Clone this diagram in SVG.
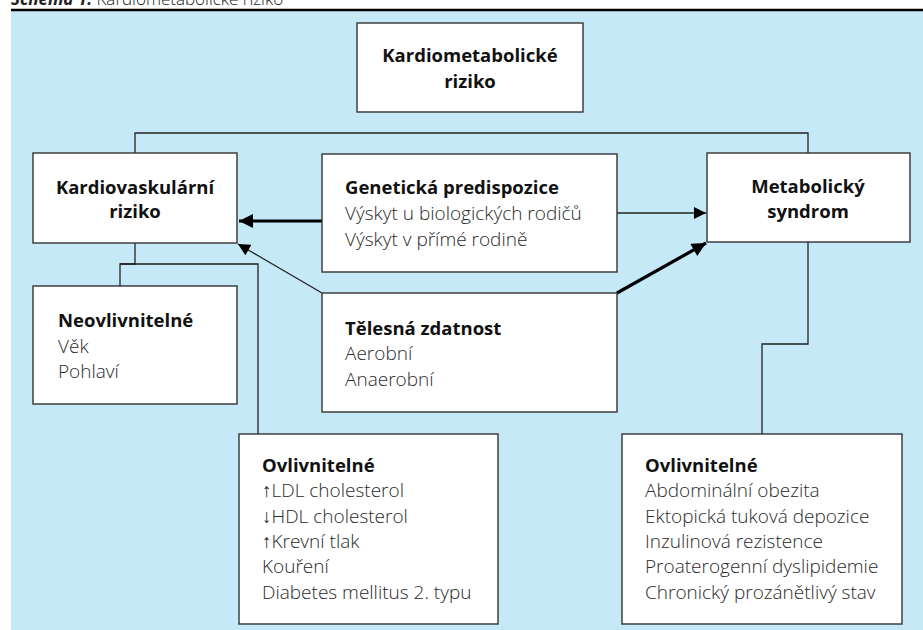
<svg xmlns="http://www.w3.org/2000/svg" width="923" height="630" viewBox="0 0 923 630">
<style>
.box{fill:#fff;stroke:#333;stroke-width:1.4}
.t{font-family:"Open Sans","Noto Sans","Liberation Sans",sans-serif}
.b{font-weight:700;fill:#111;font-size:18.5px}
.l{font-weight:300;fill:#2a2a2a;font-size:19px}
.c{text-anchor:middle}
.ln{fill:none;stroke:#222;stroke-width:1.3}
.thick{fill:none;stroke:#000;stroke-width:3.2}
</style>
<defs>
<marker id="ah" viewBox="0 0 10 10" refX="10" refY="5" markerWidth="22" markerHeight="14" markerUnits="userSpaceOnUse" orient="auto"><path d="M0,0 L10,5 L0,10 z" fill="#000"/></marker>
<marker id="ahs" viewBox="0 0 10 10" refX="10" refY="5" markerWidth="18" markerHeight="12" markerUnits="userSpaceOnUse" orient="auto"><path d="M0,0 L10,5 L0,10 z" fill="#000"/></marker>
</defs>
<text x="11" y="5" font-family="'Open Sans','Liberation Sans',sans-serif" font-size="17" fill="#222"><tspan font-weight="700" font-style="italic">Schéma 1.</tspan><tspan font-weight="300"> Kardiometabolické riziko</tspan></text>
<rect x="11" y="11" width="912" height="619" fill="#C6E9F8"/>
<line x1="11" y1="10" x2="923" y2="10" stroke="#000" stroke-width="2.5"/>
<g id="connectors">
<polyline class="ln" points="135,153 135,133 808,133 808,153"/>
<polyline class="ln" points="135,243 135,264 120,264 120,286"/>
<polyline class="ln" points="120,264 258,264 258,434"/>
<polyline class="ln" points="808,242 808,344 762,344 762,434"/>
<line class="thick" x1="322" y1="221" x2="239" y2="221" marker-end="url(#ah)"/>
<line class="ln" x1="617" y1="213" x2="706" y2="213" marker-end="url(#ahs)"/>
<line class="ln" x1="322" y1="293" x2="238" y2="244" marker-end="url(#ahs)"/>
<line class="thick" x1="617" y1="293" x2="706" y2="243" marker-end="url(#ah)"/>
</g>
<g id="n-kardiometabolicke">
<rect class="box" x="357" y="23" width="226" height="89"/>
<text class="t b c" x="470" y="62">Kardiometabolické</text>
<text class="t b c" x="470" y="88">riziko</text>
</g>
<g id="n-kardiovaskularni">
<rect class="box" x="33" y="153" width="204" height="90"/>
<text class="t b c" x="135" y="194">Kardiovaskulární</text>
<text class="t b c" x="135" y="218">riziko</text>
</g>
<g id="n-geneticka">
<rect class="box" x="322" y="154" width="295" height="118"/>
<text class="t b" x="345" y="194">Genetická predispozice</text>
<text class="t l" x="345" y="220">Výskyt u biologických rodičů</text>
<text class="t l" x="345" y="246">Výskyt v přímé rodině</text>
</g>
<g id="n-metabolicky">
<rect class="box" x="707" y="153" width="203" height="89"/>
<text class="t b c" x="808" y="193">Metabolický</text>
<text class="t b c" x="808" y="218">syndrom</text>
</g>
<g id="n-neovlivnitelne">
<rect class="box" x="33" y="286" width="204" height="118"/>
<text class="t b" x="58" y="327">Neovlivnitelné</text>
<text class="t l" x="58" y="353">Věk</text>
<text class="t l" x="58" y="378">Pohlaví</text>
</g>
<g id="n-telesna">
<rect class="box" x="322" y="293" width="295" height="119"/>
<text class="t b" x="345" y="335">Tělesná zdatnost</text>
<text class="t l" x="345" y="360">Aerobní</text>
<text class="t l" x="345" y="386">Anaerobní</text>
</g>
<g id="n-ovlivnitelne-kv">
<rect class="box" x="239" y="434" width="259" height="190"/>
<text class="t b" x="262" y="472">Ovlivnitelné</text>
<text class="t l" x="262" y="497">↑LDL cholesterol</text>
<text class="t l" x="262" y="523">↓HDL cholesterol</text>
<text class="t l" x="262" y="548">↑Krevní tlak</text>
<text class="t l" x="262" y="573">Kouření</text>
<text class="t l" x="262" y="599">Diabetes mellitus 2. typu</text>
</g>
<g id="n-ovlivnitelne-ms">
<rect class="box" x="622" y="434" width="280" height="190"/>
<text class="t b" x="645" y="472">Ovlivnitelné</text>
<text class="t l" x="645" y="497">Abdominální obezita</text>
<text class="t l" x="645" y="523">Ektopická tuková depozice</text>
<text class="t l" x="645" y="548">Inzulinová rezistence</text>
<text class="t l" x="645" y="573">Proaterogenní dyslipidemie</text>
<text class="t l" x="645" y="599">Chronický prozánětlivý stav</text>
</g>
</svg>
